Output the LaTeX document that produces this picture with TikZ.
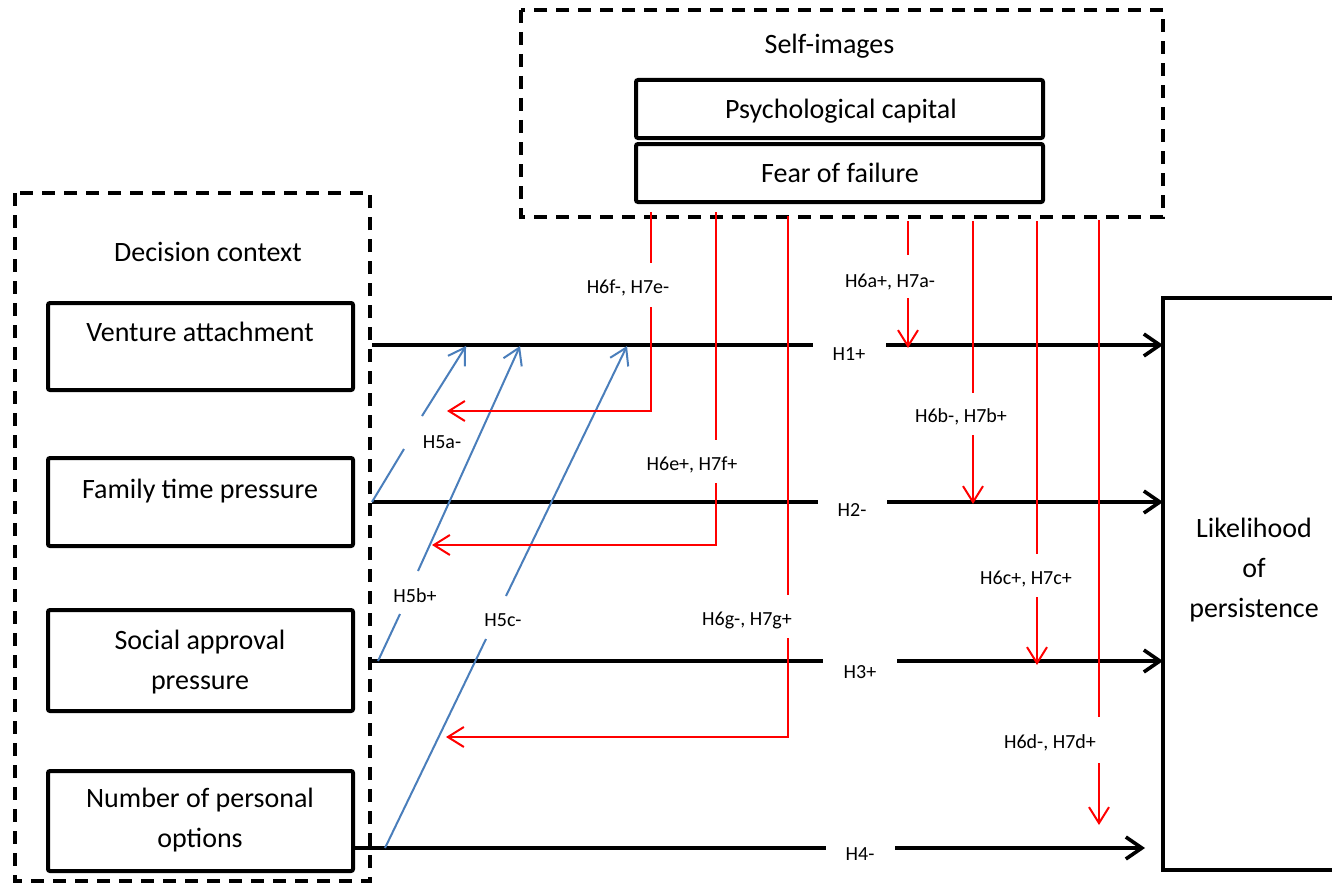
\documentclass[tikz,border=0pt]{standalone}
\usepackage{fontspec}
\setmainfont{Carlito}
\usetikzlibrary{arrows.meta}
\definecolor{arrred}{RGB}{255,0,0}
\definecolor{arrblue}{RGB}{74,126,187}
\tikzset{
  bigtxt/.style={font=\fontsize{14}{20}\selectfont, inner sep=0pt, align=center},
  lbl/.style={font=\fontsize{10}{12}\selectfont, inner sep=0pt},
  solidbox/.style={draw=black, line width=2pt, rounded corners=1pt, inner sep=0pt},
  dashbox/.style={draw=black, line width=1.7pt, dash pattern=on 6.5pt off 4.5pt},
  blk/.style={draw=black, line width=1.8pt},
  blkarr/.style={blk, -{Straight Barb[length=8pt,width=11pt]}},
  redl/.style={draw=arrred, line width=1pt},
  redarr/.style={redl, -{Straight Barb[length=8pt,width=10pt]}},
  bluel/.style={draw=arrblue, line width=1pt},
  bluearr/.style={bluel, -{Straight Barb[length=8pt,width=10pt]}}
}
\begin{document}
\begin{tikzpicture}[x=0.5pt,y=-0.5pt]
\useasboundingbox[fill=white] (0,0) rectangle (1332,883);

% dashed group frames
\draw[dashbox] (521,10) rectangle (1163,217);
\draw[dashbox] (15,193) rectangle (370,881);

% self-images group
\node[bigtxt] (selfimg) at (829.5,46.5) {Self-images};
\node[solidbox, minimum width=203.5pt, minimum height=29pt] (psy) at (839.5,109) {};
\node[bigtxt] (psytxt) at (841,111.5) {Psychological capital};
\node[solidbox, minimum width=203.5pt, minimum height=29pt] (fear) at (839.5,173) {};
\node[bigtxt] (feartxt) at (840,173) {Fear of failure};

% decision context group
\node[bigtxt] (dctxt) at (208,252) {Decision context};
\node[solidbox, minimum width=152.5pt, minimum height=43.5pt] (va) at (200.5,346.5) {};
\node[bigtxt] (vatxt) at (200,332) {Venture attachment};
\node[solidbox, minimum width=152.5pt, minimum height=44pt] (ft) at (200.5,502) {};
\node[bigtxt] (fttxt) at (200,491.5) {Family time pressure};
\node[solidbox, minimum width=152.5pt, minimum height=50.5pt] (sa) at (200.5,660.5) {};
\node[bigtxt] (satxt) at (200,662.5) {Social approval\\pressure};
\node[solidbox, minimum width=152.5pt, minimum height=50pt] (np) at (200.5,821) {};
\node[bigtxt] (nptxt) at (200,820.5) {Number of personal\\options};

% outcome
\node[bigtxt] (lp) at (1254,570) {Likelihood\\of\\persistence};
\draw[line width=2pt] (1340,298) -| (1163,870) -- (1340,870);
\coordinate (lpw) at (1163,570);

% coordinates on the left frame
\coordinate (s1) at (372,345);
\coordinate (s2) at (372,502);
\coordinate (s3) at (372,661);
\coordinate (s4) at (np.east |- 0,848);

% main effects
\node[lbl] (h1) at (849,354) {H1+};
\node[lbl] (h2) at (852,510) {H2-};
\node[lbl] (h3) at (860,672) {H3+};
\node[lbl] (h4) at (860,854) {H4-};
\draw[blk] (s1) -- (813,345);
\draw[blkarr] (886,345) -- (lpw |- s1);
\draw[blk] (s2) -- (818,502);
\draw[blkarr] (887,502) -- (lpw |- s2);
\draw[blk] (s3) -- (823,661);
\draw[blkarr] (897,661) -- (lpw |- s3);
\draw[blk] (s4) -- (826,848);
\draw[blkarr] (895,848) -- (1145,848);

% moderation by decision context (blue)
\node[lbl] (h5a) at (442,442) {H5a-};
\node[lbl] (h5b) at (415,596) {H5b+};
\node[lbl] (h5c) at (503,620) {H5c-};
\draw[bluel] (s2) -- (404,449);
\draw[bluearr] (422,416) -- (466,346);
\draw[bluel] (378,661) -- (400,614);
\draw[bluearr] (418,571) -- (520,346);
\draw[bluel] (385,848) -- (486,639);
\draw[bluearr] (506,596) -- (627,346);

% moderation by self-images (red)
\node[lbl] (h6f) at (628,288) {H6f-, H7e-};
\draw[redl] (651,212) -- (651,263);
\draw[redarr] (651,307) -- (651,411) -- (447,411);

\node[lbl] (h6e) at (692,465) {H6e+, H7f+};
\draw[redl] (716,212) -- (716,440);
\draw[redarr] (716,483) -- (716,545) -- (432,545);

\node[lbl] (h6g) at (747,620) {H6g-, H7g+};
\draw[redl] (788,216) -- (788,595);
\draw[redarr] (788,638) -- (788,737) -- (446,737);

\node[lbl] (h6a) at (890,282) {H6a+, H7a-};
\draw[redl] (908,221) -- (908,255);
\draw[redarr] (908,298) -- (908,348);

\node[lbl] (h6b) at (961,417) {H6b-, H7b+};
\draw[redl] (973,221) -- (973,393);
\draw[redarr] (973,435) -- (973,504);

\node[lbl] (h6c) at (1026,579) {H6c+, H7c+};
\draw[redl] (1037,221) -- (1037,554);
\draw[redarr] (1037,597) -- (1037,665);

\node[lbl] (h6d) at (1050,743) {H6d-, H7d+};
\draw[redl] (1099,220) -- (1099,717);
\draw[redarr] (1099,763) -- (1099,825);
\end{tikzpicture}
\end{document}
